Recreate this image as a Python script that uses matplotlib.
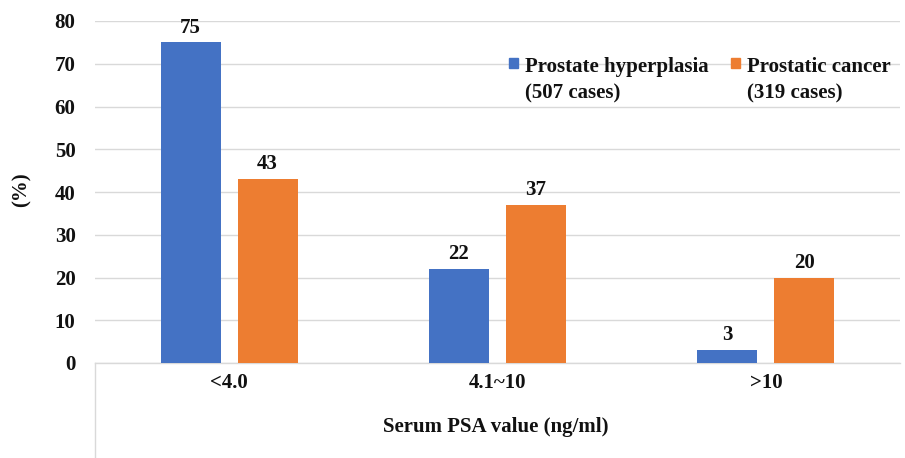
import matplotlib
matplotlib.use("Agg")
import matplotlib.pyplot as plt
from matplotlib.lines import Line2D
from matplotlib.patches import Rectangle
import numpy as np

categories = ["<4.0", "4.1~10", ">10"]
hyperplasia = [75, 22, 3]
cancer = [43, 37, 20]
series_names = [["Prostate hyperplasia", "(507 cases)"], ["Prostatic cancer", "(319 cases)"]]
yticks = [0, 10, 20, 30, 40, 50, 60, 70, 80]

BLUE = "#4472C4"
ORANGE = "#ED7D31"
GRID = "#D9D9D9"
TXT = "#111111"
FS = 15
plt.rcParams['font.family'] = ['Liberation Serif', 'DejaVu Serif']
plt.rcParams['font.weight'] = 'bold'

W, H = 905, 458
fig = plt.figure(figsize=(W/100, H/100), dpi=100)
x0, x1, y0, y1 = 95, 900, 363, 21
ax = fig.add_axes([x0/W, (H-y0)/H, (x1-x0)/W, (y0-y1)/H])

x = np.arange(len(categories))
off = 0.1435
bw = 0.224
b1 = ax.bar(x - off, hyperplasia, bw, color=BLUE, zorder=3)
b2 = ax.bar(x + off, cancer, bw, color=ORANGE, zorder=3)
for bars, vals in ((b1, hyperplasia), (b2, cancer)):
    for r, v in zip(bars, vals):
        ax.text(r.get_x() + r.get_width()/2, v + 2.3, f"{v}", ha="center", va="baseline",
                fontsize=FS, fontweight="bold", color=TXT)

ax.set_xlim(-0.5, 2.5)
ax.set_ylim(0, 80)
ax.set_yticks(yticks)
ax.set_yticklabels([str(t) for t in yticks], fontsize=FS, fontweight="bold")
ax.set_xticks(x)
ax.set_xticklabels(categories, fontsize=FS, fontweight="bold")
ax.tick_params(axis="both", length=0, colors=TXT)
ax.tick_params(axis="y", pad=14)
ax.tick_params(axis="x", pad=7)
ax.yaxis.grid(True, color=GRID, linewidth=1, zorder=0)
ax.set_axisbelow(True)
for s in ["top", "right", "left"]:
    ax.spines[s].set_visible(False)
ax.spines["bottom"].set_color(GRID)
ax.spines["bottom"].set_linewidth(1)

fig.add_artist(Line2D([x0/W, x0/W], [0, (H-y0)/H], color=GRID, linewidth=1, transform=fig.transFigure))

fig.text(22/W, 1 - 190/H, "(%)", rotation=90, ha="center", va="center", fontsize=FS, fontweight="bold", color=TXT)
fig.text(495.5/W, 1 - 432/H, "Serum PSA value (ng/ml)", ha="center", va="baseline", fontsize=FS, fontweight="bold", color=TXT)

# legend (manual, handle aligned with first line)
leg_x = [509, 731]
for i, (lines, col) in enumerate(zip(series_names, [BLUE, ORANGE])):
    sx = leg_x[i]
    fig.add_artist(Rectangle((sx/W, 1 - 68/H), 9/W, 10/H, color=col, transform=fig.transFigure))
    for j, ln in enumerate(lines):
        fig.text((sx + 16)/W, 1 - (72 + 26*j)/H, ln, ha="left", va="baseline", fontsize=FS,
                 fontweight="bold", color=TXT)

fig.savefig("out.png", dpi=100)
